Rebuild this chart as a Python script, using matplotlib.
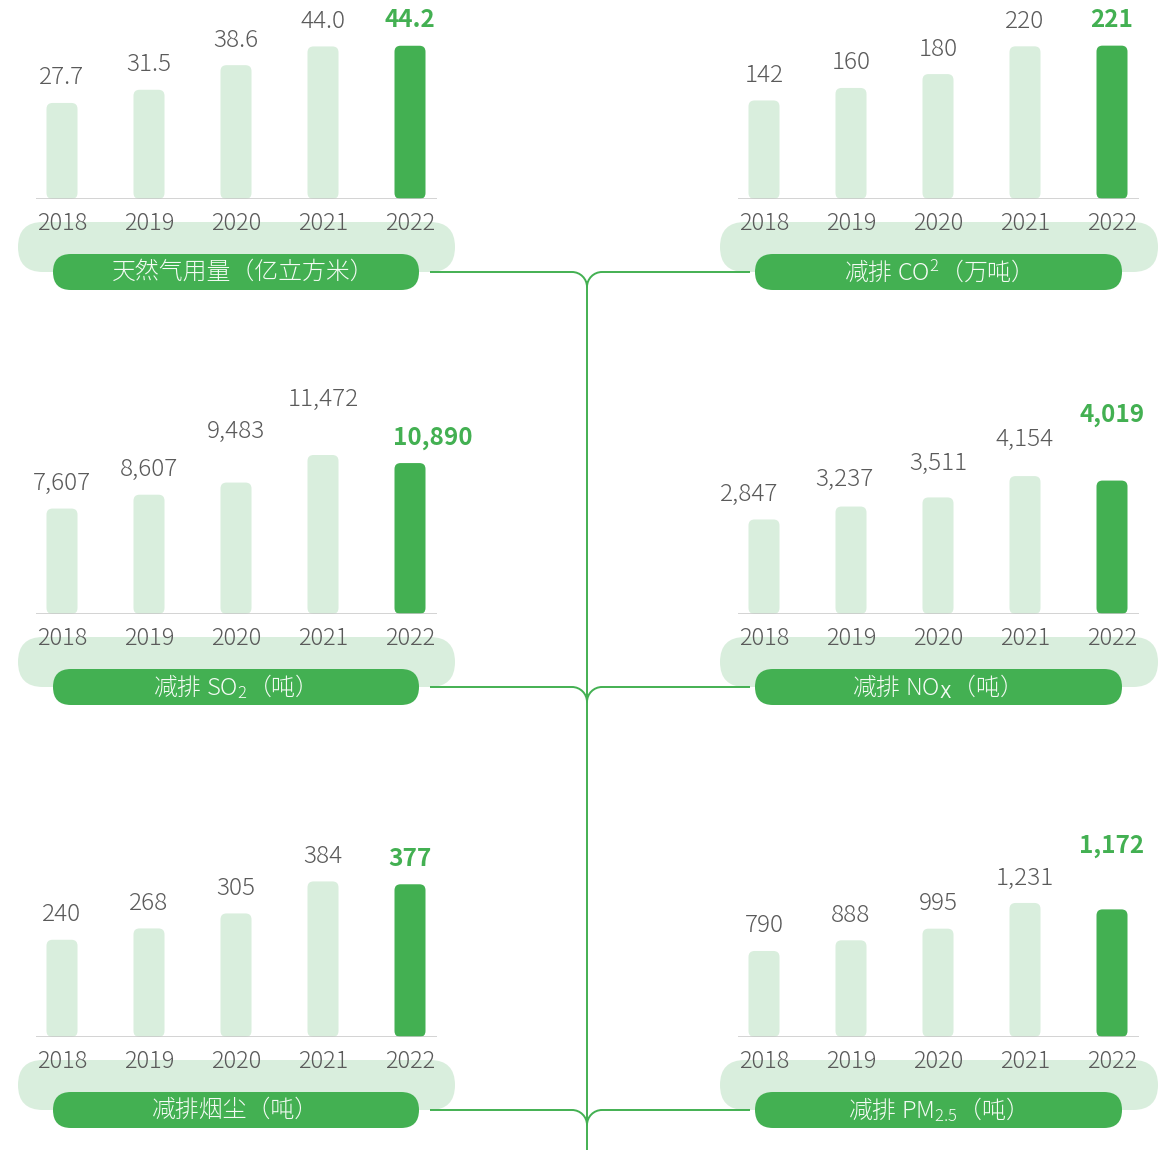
import matplotlib
matplotlib.use("Agg")
import matplotlib.pyplot as plt
from matplotlib.patches import FancyBboxPatch, PathPatch
from matplotlib.path import Path

FAM = ['Noto Sans CJK JP', 'Noto Sans CJK SC', 'DejaVu Sans']
plt.rcParams['font.family'] = FAM
plt.rcParams['mathtext.fontset'] = 'custom'
plt.rcParams['mathtext.default'] = 'regular'

# ---------------- data ----------------
years = ["2018", "2019", "2020", "2021", "2022"]
gas = [27.7, 31.5, 38.6, 44.0, 44.2]
co2 = [142, 160, 180, 220, 221]
so2 = [7607, 8607, 9483, 11472, 10890]
nox = [2847, 3237, 3511, 4154, 4019]
dust = [240, 268, 305, 384, 377]
pm25 = [790, 888, 995, 1231, 1172]

titles = ["天然气用量（亿立方米）",
          "减排 CO$^{2}$（万吨）",
          "减排 SO$_{2}$（吨）",
          "减排 NO$_{\\mathrm{X}}$（吨）",
          "减排烟尘（吨）",
          "减排 PM$_{2.5}$（吨）"]
series = [gas, co2, so2, nox, dust, pm25]
formats = ["{:.1f}", "{:,}", "{:,}", "{:,}", "{:,}", "{:,}"]

# ---------------- style / layout ----------------
W, H = 1176, 1150
DARK = "#43b052"
LIGHT = "#d9eedd"
GRAY = "#5a5a5a"
BASE = "#c8c8c8"
WHITE_TXT = "#f4fbf4"

col_x0 = [36, 738]
axw = 401
baselines = [199, 614, 1037]
axh = 190
# y-axis top value per panel (axes height = 190 px)
ymax = [54.8, 273.8, 13709, 5723, 469, 1745]
xlim = (-26 / 87, 4 + 27 / 87)
bar_w = 31 / 87

# extra label offsets in px (dx, dy up)
lab_dx = {2: [0, 0, 0, 0, 23], 3: [-15, -7, 0, 0, 0]}
lab_dy = {2: [0, 0, 26, 31, 0], 3: [0, 2, 9, 12, 40], 5: [0, 0, 0, 0, 38]}
title_dx = [7, -7, -8, -8, 0, -8]

PX2PT = 72 / 100

fig = plt.figure(figsize=(W / 100, H / 100), dpi=100)
fig.patch.set_facecolor("white")

bg = fig.add_axes([0, 0, 1, 1], zorder=0)
bg.set_xlim(0, W)
bg.set_ylim(H, 0)
bg.axis("off")

# connector tree
R = 15
k = 0.5523
TX = 587
lw_line = 1.4
verts, codes = [], []
for r, b in enumerate(baselines):
    yc = b + 73
    verts += [(430, yc), (TX - R, yc), (TX - R + k * R, yc), (TX, yc + R - k * R), (TX, yc + R)]
    codes += [Path.MOVETO, Path.LINETO, Path.CURVE4, Path.CURVE4, Path.CURVE4]
    verts += [(750, yc), (TX + R, yc), (TX + R - k * R, yc), (TX, yc + R - k * R), (TX, yc + R)]
    codes += [Path.MOVETO, Path.LINETO, Path.CURVE4, Path.CURVE4, Path.CURVE4]
verts += [(TX, baselines[0] + 73 + R), (TX, H)]
codes += [Path.MOVETO, Path.LINETO]
bg.add_patch(PathPatch(Path(verts, codes), fc="none", ec=DARK, lw=lw_line, zorder=1))

light_pill = [(18, 437), (720, 438)]
dark_pill = [(53, 366), (755, 367)]

for i, vals in enumerate(series):
    row, col = divmod(i, 2)
    b = baselines[row]
    shift = b - 199

    # pills
    lx, lwid = light_pill[col]
    bg.add_patch(FancyBboxPatch((lx, 222 + shift), lwid, 50,
                                boxstyle="round,pad=0,rounding_size=25",
                                fc=LIGHT, ec="none", zorder=0.5))
    dx0, dwid = dark_pill[col]
    bg.add_patch(FancyBboxPatch((dx0, 254 + shift), dwid, 36,
                                boxstyle="round,pad=0,rounding_size=18",
                                fc=DARK, ec="none", zorder=2))
    bg.text(dx0 + dwid / 2 + title_dx[i], 272 + shift, titles[i], ha="center", va="center",
            color=WHITE_TXT, fontsize=17.2, fontweight=300, zorder=3)

    # bar panel
    ax = fig.add_axes([col_x0[col] / W, (H - b) / H, axw / W, axh / H], zorder=1)
    ax.set_xlim(*xlim)
    ax.set_ylim(0, ymax[i])
    ax.axis("off")
    ax.patch.set_alpha(0)
    colors = [LIGHT] * (len(vals) - 1) + [DARK]
    bars = ax.bar(range(len(vals)), vals, width=bar_w, color=colors)
    ppx = axw / (xlim[1] - xlim[0])
    ppy = axh / ymax[i]
    rpx = 6
    for bar in bars:
        p = FancyBboxPatch((bar.get_x(), bar.get_y()), bar.get_width(), bar.get_height(),
                           boxstyle=f"round,pad=0,rounding_size={rpx / ppx}",
                           mutation_aspect=ppx / ppy,
                           fc=bar.get_facecolor(), ec="none", zorder=2)
        bar.remove()
        ax.add_patch(p)
    ax.axhline(0, color=BASE, lw=1.1, zorder=3)

    for j, v in enumerate(vals):
        last = j == len(vals) - 1
        dxp = lab_dx.get(i, [0] * 5)[j]
        dyp = lab_dy.get(i, [0] * 5)[j]
        ax.annotate(formats[i].format(v), xy=(j, v),
                    xytext=(dxp * PX2PT, (18.5 + dyp) * PX2PT), textcoords="offset points",
                    ha="center", va="baseline", fontsize=17.5,
                    color=DARK if last else GRAY,
                    fontweight=700 if last else 300,
                    annotation_clip=False)
        ax.annotate(years[j], xy=(j, 0), xytext=(0, -31 * PX2PT), textcoords="offset points",
                    ha="center", va="baseline", fontsize=17, color=GRAY,
                    fontweight=300, annotation_clip=False, zorder=4)

fig.savefig("out.png", dpi=100, facecolor="white")
